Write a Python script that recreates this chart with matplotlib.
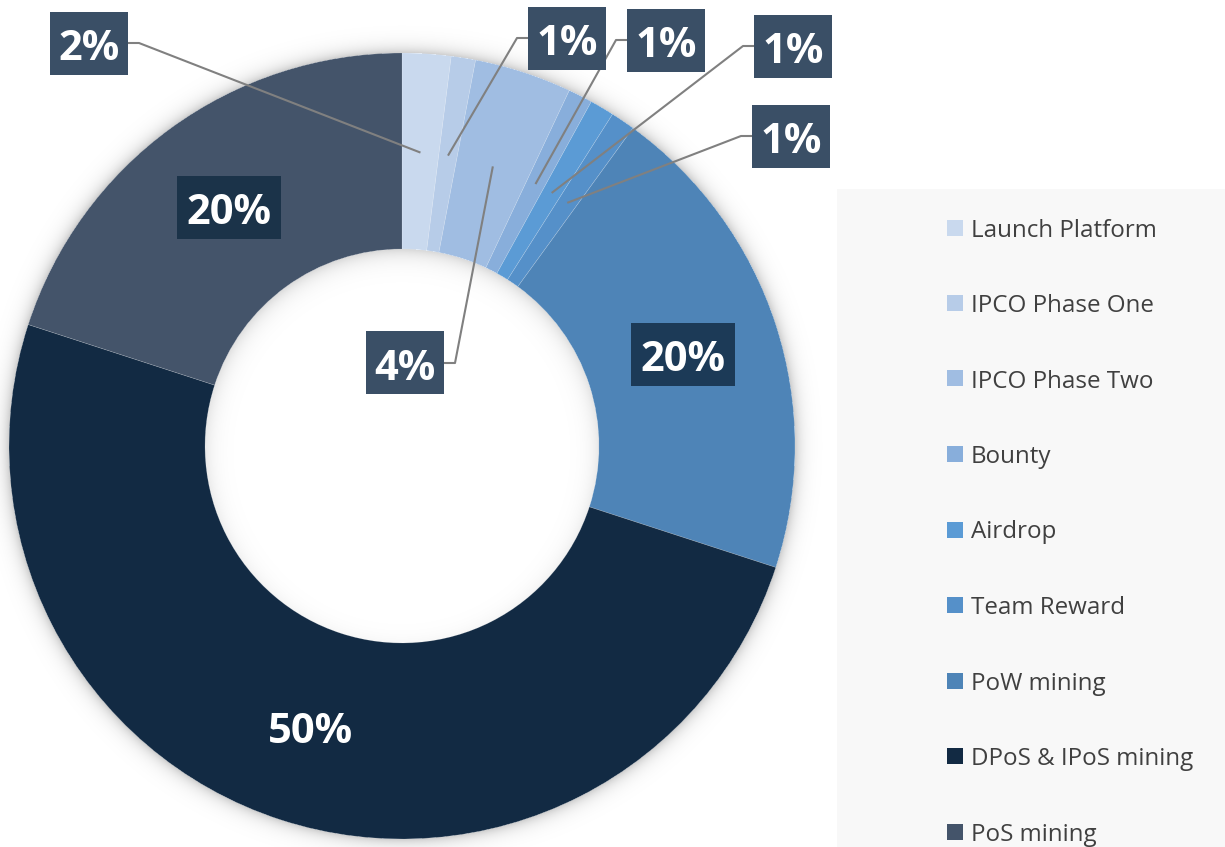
import numpy as np
import matplotlib
matplotlib.use('Agg')
import matplotlib.pyplot as plt
from matplotlib.patches import Rectangle

categories = ['Launch Platform', 'IPCO Phase One', 'IPCO Phase Two', 'Bounty',
              'Airdrop', 'Team Reward', 'PoW mining', 'DPoS & IPoS mining', 'PoS mining']
values = [2, 1, 4, 1, 1, 1, 20, 50, 20]
colors = ['#C9D9EE', '#B7CCE8', '#A0BDE2', '#88AEDB', '#5B9BD5', '#5590C9',
          '#4E84B7', '#122A43', '#44546A']
labels_pct = ['2%', '1%', '4%', '1%', '1%', '1%', '20%', '50%', '20%']

plt.rcParams['font.family'] = ['Open Sans', 'DejaVu Sans']

W, H = 1225, 847
fig = plt.figure(figsize=(W / 100, H / 100), dpi=100)
ax = fig.add_axes([0, 0, 1, 1])


def P(x, y):
    """image pixel coords -> data coords"""
    return x, H - y


cx_i, cy_i = 402, 446
cx, cy = P(cx_i, cy_i)
R = 393
r_in = 197

# soft shadow around the ring
yy, xx = np.mgrid[0:H, 0:W]
rr = np.hypot(xx + 0.5 - cx_i, yy + 0.5 - cy_i)
alpha = np.zeros_like(rr)
out = rr > R
alpha[out] = 0.20 * np.exp(-(rr[out] - R) / 7.0)
inn = rr < r_in
dirf = 0.6 + 0.4 * np.clip(-(yy[inn] + 0.5 - cy_i) / np.maximum(rr[inn], 1), -1, 1)
alpha[inn] = 0.16 * dirf * np.exp(-(r_in - rr[inn]) / 9.0)
img = np.zeros((H, W, 4))
img[..., 3] = alpha
ax.imshow(img, extent=(0, W, 0, H), origin='upper', zorder=0, interpolation='bilinear')

wedges, _ = ax.pie(values, colors=colors, startangle=90, counterclock=False,
                   radius=R, center=(cx, cy),
                   wedgeprops=dict(width=R - r_in, edgecolor=(1, 1, 1, 0.18), linewidth=0.5))
for w in wedges:
    w.set_zorder(2)

ax.set_xlim(0, W)
ax.set_ylim(0, H)
ax.set_aspect('equal')
ax.axis('off')

box_dark = '#3A4F66'
font_lbl = dict(fontsize=30, fontweight='bold', color='white', ha='center',
                va='center_baseline', zorder=6)


def mid_point(w, r):
    a = np.deg2rad((w.theta1 + w.theta2) / 2)
    return cx + r * np.cos(a), cy + r * np.sin(a)


def label_box(xc, yc, txt, color):
    bw = 78 if len(txt) == 2 else 104
    bh = 63
    ax.add_patch(Rectangle((xc - bw / 2, yc - bh / 2), bw, bh, facecolor=color,
                           edgecolor='none', zorder=5))
    ax.text(xc, yc - 1, txt, **font_lbl)
    return bw


# outside labels (small slices): box centre in image coords, side of leader
outside = {0: ((89, 43), 'right'), 1: ((567, 38), 'left'), 2: ((405, 363), 'right'),
           3: ((666, 40), 'left'), 4: ((793, 46), 'left'), 5: ((791, 136), 'left')}
for i, ((bx, by), side) in outside.items():
    xb, yb = P(bx, by)
    bw = label_box(xb, yb, labels_pct[i], box_dark)
    ax_, ay_ = mid_point(wedges[i], 294)
    if side == 'right':
        ex = xb + bw / 2
        elbow = ex + 11
    else:
        ex = xb - bw / 2
        elbow = ex - 11
    ax.plot([ex, elbow, ax_], [yb, yb, ay_], color='#808080', lw=1.5,
            solid_capstyle='butt', zorder=4)

# inside labels
inside_colors = {6: '#1C3A57', 7: None, 8: '#1B3349'}
for i, c in inside_colors.items():
    x, y = mid_point(wedges[i], 295)
    if c is not None:
        label_box(x, y, labels_pct[i], c)
    else:
        ax.text(x, y - 1, labels_pct[i], **font_lbl)

# legend panel
ax.add_patch(Rectangle((837, 0), W - 837, H - 189, facecolor='#F8F8F8',
                       edgecolor='none', zorder=1))
row0, pitch = 227.5, 75.5
for k, (cat, col) in enumerate(zip(categories, colors)):
    yr = row0 + k * pitch
    _, yd = P(0, yr)
    ax.add_patch(Rectangle((947, yd - 8), 16, 16, facecolor=col, edgecolor='none', zorder=3))
    ax.text(971, yd, cat, fontsize=17.4, color='#404040', ha='left',
            va='center_baseline', zorder=3)

fig.savefig('out.png', dpi=100)
